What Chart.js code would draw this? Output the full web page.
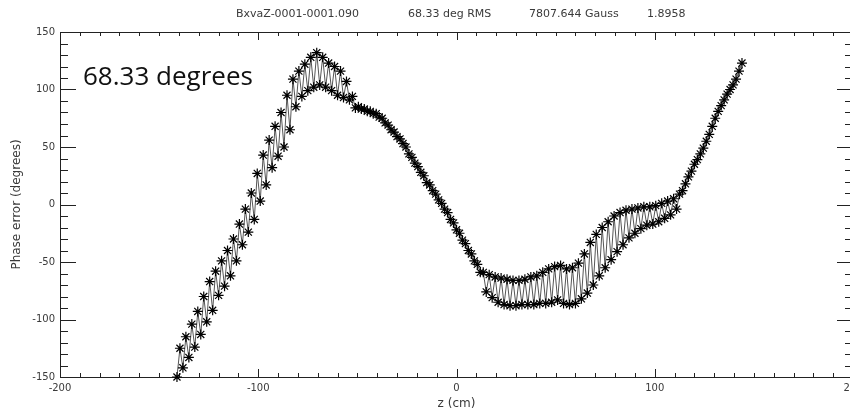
<!DOCTYPE html>
<html>
<head>
<meta charset="utf-8">
<script src="https://cdn.jsdelivr.net/npm/chart.js@4.4.1/dist/chart.umd.min.js"></script>
<style>
  html, body { margin: 0; padding: 0; background: #fff; overflow: hidden; }
  #wrap { width: 850px; height: 414px; overflow: hidden; }
</style>
</head>
<body>
<div id="wrap"><canvas id="plot" width="870" height="414"></canvas></div>
<script>
// z position (cm) of each point and the phase error
const zCm = [
  -141, -139.5, -138, -136.5, -135, -133.5, -132, -130.5, -129, -127.5,
  -126, -124.5, -123, -121.5, -120, -118.5, -117, -115.5, -114, -112.5,
  -111, -109.5, -108, -106.5, -105, -103.5, -102, -100.5, -99, -97.5,
  -96, -94.5, -93, -91.5, -90, -88.5, -87, -85.5, -84, -82.5,
  -81, -79.5, -78, -76.5, -75, -73.5, -72, -70.5, -69, -67.5,
  -66, -64.5, -63, -61.5, -60, -58.5, -57, -55.5, -54, -52.5,
  -51, -49.5, -48, -46.5, -45, -43.5, -42, -40.5, -39, -37.5,
  -36, -34.5, -33, -31.5, -30, -28.5, -27, -25.5, -24, -22.5,
  -21, -19.5, -18, -16.5, -15, -13.5, -12, -10.5, -9, -7.5,
  -6, -4.5, -3, -1.5, 0, 1.5, 3, 4.5, 6, 7.5,
  9, 10.5, 12, 13.5, 15, 16.5, 18, 19.5, 21, 22.5,
  24, 25.5, 27, 28.5, 30, 31.5, 33, 34.5, 36, 37.5,
  39, 40.5, 42, 43.5, 45, 46.5, 48, 49.5, 51, 52.5,
  54, 55.5, 57, 58.5, 60, 61.5, 63, 64.5, 66, 67.5,
  69, 70.5, 72, 73.5, 75, 76.5, 78, 79.5, 81, 82.5,
  84, 85.5, 87, 88.5, 90, 91.5, 93, 94.5, 96, 97.5,
  99, 100.5, 102, 103.5, 105, 106.5, 108, 109.5, 111, 112.5,
  114, 115.5, 117, 118.5, 120, 121.5, 123, 124.5, 126, 127.5,
  129, 130.5, 132, 133.5, 135, 136.5, 138, 139.5, 141, 142.5,
  144
];
const phaseDeg = [
  -150, -125, -142, -115, -133, -104, -124, -93, -113, -80,
  -102, -67, -92, -58, -79, -49, -71, -40, -62, -30,
  -49, -17, -35, -4, -24, 10, -13, 27, 3, 43,
  17, 56, 32, 68, 42, 80, 50, 95, 65, 109,
  85, 116, 94, 122, 99, 128, 102, 132, 104, 128,
  102, 123, 99, 120, 95, 116, 93, 107, 91, 94,
  84, 85, 83, 83, 81, 81, 79, 79, 76, 75,
  71, 69, 65, 63, 59, 57, 53, 50, 44, 41,
  36, 33, 28, 25, 19, 17, 12, 9, 4, 1,
  -4, -7, -13, -16, -22, -25, -31, -34, -40, -43,
  -49, -52, -59, -59, -76, -61, -81, -63, -85, -64,
  -87, -65, -88, -66, -88, -66, -87, -65, -87, -63,
  -87, -62, -86, -59, -86, -56, -85, -54, -83, -53,
  -86, -56, -87, -55, -86, -51, -82, -43, -77, -33,
  -70, -26, -62, -20, -55, -15, -48, -10, -41, -7,
  -35, -5, -29, -4, -25, -3, -21, -2, -18, -2,
  -17, -1, -15, 1, -12, 3, -9, 5, -4, 9,
  12, 18, 24, 29, 35, 39, 44, 49, 55, 61,
  68, 75, 81, 86, 91, 96, 100, 104, 109, 116,
  123
];

const xTicks = [-200, -100, 0, 100, 200];
const yTicks = [-150, -100, -50, 0, 50, 100, 150];
// title pieces and where each starts, counted from the plot's left edge
const titleParts = ['BxvaZ-0001-0001.090', '68.33 deg RMS', '7807.644 Gauss', '1.8958'];
const titleOffsets = [176, 348, 469, 587];
const noteText = '68.33 degrees';

const idlFont = 'DejaVu Sans';
const inkGrey = '#3a3a3a';

// IDL style box with ticks pointing inwards, on all four sides
const idlAxes = {
  id: 'idlAxes',
  beforeDatasetsDraw(chart) {
    const { ctx, chartArea: a, scales: { x, y } } = chart;
    ctx.save();
    ctx.strokeStyle = '#222';
    ctx.lineWidth = 1;
    ctx.strokeRect(a.left + 0.5, a.top + 0.5, a.right - a.left, a.bottom - a.top);
    ctx.beginPath();
    for (let v = xTicks[0]; v <= xTicks[xTicks.length - 1]; v += 10) {
      const px = Math.round(x.getPixelForValue(v)) + 0.5;
      const len = v % 100 === 0 ? 8 : 4;
      ctx.moveTo(px, a.bottom); ctx.lineTo(px, a.bottom - len);
      ctx.moveTo(px, a.top); ctx.lineTo(px, a.top + len);
    }
    for (let v = yTicks[0]; v <= yTicks[yTicks.length - 1]; v += 10) {
      const py = Math.round(y.getPixelForValue(v)) + 0.5;
      const len = v % 50 === 0 ? 16 : 8;
      ctx.moveTo(a.left, py); ctx.lineTo(a.left + len, py);
      ctx.moveTo(a.right, py); ctx.lineTo(a.right - len, py);
    }
    ctx.stroke();

    // header line above the box
    ctx.fillStyle = inkGrey;
    ctx.font = '11px "' + idlFont + '"';
    ctx.textBaseline = 'middle';
    titleParts.forEach((t, i) => ctx.fillText(t, a.left + titleOffsets[i], 14));
    ctx.restore();
  },
  afterDraw(chart) {
    const { ctx } = chart;
    ctx.save();
    ctx.fillStyle = '#111';
    ctx.font = '26px "Open Sans"';
    ctx.textBaseline = 'alphabetic';
    ctx.fillText(noteText, 83, 85);
    ctx.restore();
  }
};

new Chart(document.getElementById('plot'), {
  type: 'scatter',
  data: {
    datasets: [{
      data: zCm.map((z, i) => ({ x: z, y: phaseDeg[i] })),
      showLine: true,
      borderColor: '#555',
      borderWidth: 1,
      pointStyle: 'star',
      pointRadius: 5,
      pointBorderColor: '#000',
      pointBorderWidth: 1.2,
      pointBackgroundColor: '#000',
      clip: 6
    }]
  },
  options: {
    responsive: false,
    animation: false,
    events: [],
    layout: { padding: { left: 0, right: 17, top: 32, bottom: 0 } },
    plugins: {
      legend: { display: false },
      tooltip: { enabled: false },
      title: { display: false }
    },
    scales: {
      x: {
        type: 'linear',
        min: -200,
        max: 200,
        afterBuildTicks: s => { s.ticks = xTicks.map(v => ({ value: v })); },
        afterFit: s => { s.height = 37; },
        grid: { display: false, drawTicks: false },
        border: { display: false },
        ticks: {
          color: inkGrey,
          padding: 5,
          maxRotation: 0,
          font: { family: idlFont, size: 10 }
        },
        title: {
          display: true,
          text: 'z (cm)',
          color: inkGrey,
          font: { family: idlFont, size: 12 },
          padding: { top: 0, bottom: 3 }
        }
      },
      y: {
        type: 'linear',
        min: -150,
        max: 150,
        afterBuildTicks: s => { s.ticks = yTicks.map(v => ({ value: v })); },
        afterFit: s => { s.width = 60; },
        grid: { display: false, drawTicks: false },
        border: { display: false },
        ticks: {
          color: inkGrey,
          padding: 5,
          font: { family: idlFont, size: 10 }
        },
        title: {
          display: true,
          text: 'Phase error (degrees)',
          color: inkGrey,
          font: { family: idlFont, size: 12 },
          padding: { top: 10, bottom: 0 }
        }
      }
    }
  },
  plugins: [idlAxes]
});
</script>
</body>
</html>
